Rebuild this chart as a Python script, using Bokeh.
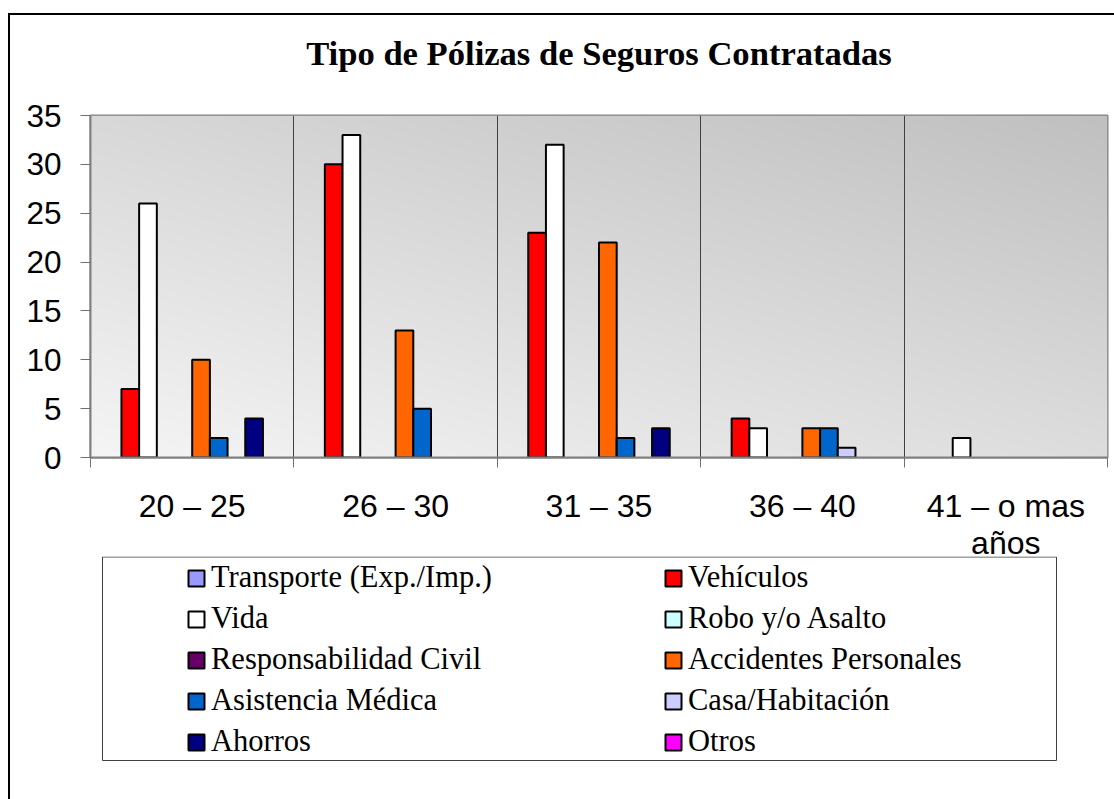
import numpy as np
from bokeh.plotting import figure
from bokeh.layouts import column
from bokeh.models import (ColumnDataSource, FixedTicker, Range1d, Legend, LegendItem,
                          BoxAnnotation, Title)
from bokeh.embed import file_html
from bokeh.resources import INLINE

# ---------------- data ----------------
title_text = "Tipo de Pólizas de Seguros Contratadas"
categories = ["20 – 25", "26 – 30", "31 – 35", "36 – 40", "41 – o mas\naños"]
series_names = ["Transporte (Exp./Imp.)", "Vehículos", "Vida", "Robo y/o Asalto",
                "Responsabilidad Civil", "Accidentes Personales", "Asistencia Médica",
                "Casa/Habitación", "Ahorros", "Otros"]
series_colors = ["#9999FF", "#FF0000", "#FFFFFF", "#CCFFFF", "#660066",
                 "#FF6600", "#0066CC", "#CCCCFF", "#000080", "#FF00FF"]

transporte = [0, 0, 0, 0, 0]
vehiculos = [7, 30, 23, 4, 0]
vida = [26, 33, 32, 3, 2]
robo = [0, 0, 0, 0, 0]
resp_civil = [0, 0, 0, 0, 0]
accidentes = [10, 13, 22, 3, 0]
asistencia = [2, 5, 2, 3, 0]
casa = [0, 0, 0, 1, 0]
ahorros = [4, 0, 3, 0, 0]
otros = [0, 0, 0, 0, 0]
series_values = [transporte, vehiculos, vida, robo, resp_civil,
                 accidentes, asistencia, casa, ahorros, otros]

y_ticks = [0, 5, 10, 15, 20, 25, 30, 35]

# ---------------- chart figure ----------------
W = 1104
HA, HB = 555, 243
OVERLAP = 14
n_cat = len(categories)
n_ser = len(series_names)
x_start, x_end = -0.5, n_cat - 0.5
y_start, y_end = 0, 35

p = figure(width=W, height=HA, output_backend="svg", toolbar_location=None,
           x_range=Range1d(x_start, x_end), y_range=Range1d(y_start, y_end),
           min_border_left=80, min_border_right=7, min_border_top=100,
           min_border_bottom=113, background_fill_color="#e0e0e0",
           border_fill_color="white", title=None)

# spacer between title and plot area, then the title itself
p.add_layout(Title(text=" ", text_font="Liberation Serif", text_font_size="20px",
                   standoff=15), "above")
p.add_layout(Title(text=title_text, text_font="Liberation Serif",
                   text_font_size="34.6px", text_font_style="bold", align="center",
                   text_color="black", standoff=10), "above")

p.outline_line_color = "#808080"
p.outline_line_width = 2

# gradient background for the plot area
ny, nx = 180, 540
u = np.linspace(0, 1, nx)[None, :]
w = np.linspace(0, 1, ny)[:, None]
v = np.clip(245 - 24 * u - 29 * w, 0, 255).astype(np.uint8)
img = np.empty((ny, nx), dtype=np.uint32)
view = img.view(dtype=np.uint8).reshape((ny, nx, 4))
view[:, :, 0] = v
view[:, :, 1] = v
view[:, :, 2] = v
view[:, :, 3] = 255
p.image_rgba(image=[img], x=x_start, y=y_start, dw=x_end - x_start,
             dh=y_end - y_start, level="image")

# bars (zero values are not drawn)
bar_w = 1 / (n_ser + 1.5)
full_sources = []
for j, (name, col, vals) in enumerate(zip(series_names, series_colors, series_values)):
    xs = [i + (j - (n_ser - 1) / 2) * bar_w for i in range(n_cat)]
    full_sources.append(ColumnDataSource(dict(x=xs, top=list(vals))))
    nz = [i for i in range(n_cat) if vals[i] != 0]
    src = ColumnDataSource(dict(x=[xs[i] for i in nz], top=[vals[i] for i in nz]))
    p.vbar(x="x", top="top", bottom=0, width=bar_w, source=src,
           fill_color=col, line_color="black", line_width=2)

# axes
p.ygrid.grid_line_color = None
p.xgrid.grid_line_color = None
p.xgrid.minor_grid_line_color = "#404040"
p.xgrid.minor_grid_line_width = 1

p.xaxis.ticker = FixedTicker(ticks=list(range(n_cat)),
                             minor_ticks=[i - 0.5 for i in range(n_cat + 1)])
p.xaxis.major_label_overrides = {i: c for i, c in enumerate(categories)}
p.xaxis.major_tick_out = 0
p.xaxis.major_tick_in = 0
p.xaxis.minor_tick_out = 10
p.xaxis.minor_tick_in = 0
p.xaxis.minor_tick_line_color = "#707070"
p.xaxis.axis_line_color = "#808080"
p.xaxis.axis_line_width = 2
p.xaxis.major_label_text_font = "Liberation Sans"
p.xaxis.major_label_text_font_size = "32px"
p.xaxis.major_label_text_line_height = 1.04
p.xaxis.major_label_text_color = "black"
p.xaxis.major_label_standoff = 20

p.yaxis.ticker = FixedTicker(ticks=y_ticks, minor_ticks=[])
p.yaxis.major_tick_out = 10
p.yaxis.major_tick_in = 0
p.yaxis.minor_tick_out = 0
p.yaxis.major_tick_line_color = "#707070"
p.yaxis.axis_line_color = "#808080"
p.yaxis.axis_line_width = 2
p.yaxis.major_label_text_font = "Liberation Sans"
p.yaxis.major_label_text_font_size = "31.5px"
p.yaxis.major_label_text_color = "black"
p.yaxis.major_label_standoff = 19

# ---------------- legend figure ----------------
q = figure(width=W, height=HB, output_backend="svg", toolbar_location=None,
           x_range=Range1d(x_start, x_end), y_range=Range1d(-2, -1),
           x_axis_type=None, y_axis_type=None,
           min_border_left=0, min_border_right=0, min_border_top=0,
           min_border_bottom=0, background_fill_alpha=0,
           border_fill_alpha=0, outline_line_color=None)
q.xgrid.grid_line_color = None
q.ygrid.grid_line_color = None
q.styles = {"margin-top": f"-{OVERLAP}px"}

items = []
for name, col, src in zip(series_names, series_colors, full_sources):
    r = q.vbar(x="x", top="top", bottom=0, width=bar_w, source=src,
               fill_color=col, line_color="black", line_width=2, visible=False)
    items.append(LegendItem(label=name, renderers=[r]))

legend = Legend(items=items, location=(96, HB - 206), orientation="horizontal",
                ncols=2, padding=0, spacing=0, margin=0,
                glyph_width=20, glyph_height=20, label_standoff=5,
                label_width=452, label_height=41,
                label_text_font="Liberation Serif", label_text_font_size="30.5px",
                label_text_color="black", inactive_fill_alpha=0,
                border_line_alpha=0, background_fill_alpha=0)
q.add_layout(legend, "center")

q.add_layout(BoxAnnotation(left=92, right=1046, top=0.5, bottom=204,
                           left_units="canvas", right_units="canvas",
                           top_units="canvas", bottom_units="canvas",
                           fill_alpha=0, fill_color=None,
                           line_color="#404040", line_width=1, line_alpha=1,
                           level="underlay"))

layout = column(p, q, spacing=0,
                styles={"margin-left": "8px", "margin-top": "13px",
                        "border-left": "2px solid black",
                        "border-top": "2px solid black"})

open("out.html", "w").write(file_html(layout, INLINE))
